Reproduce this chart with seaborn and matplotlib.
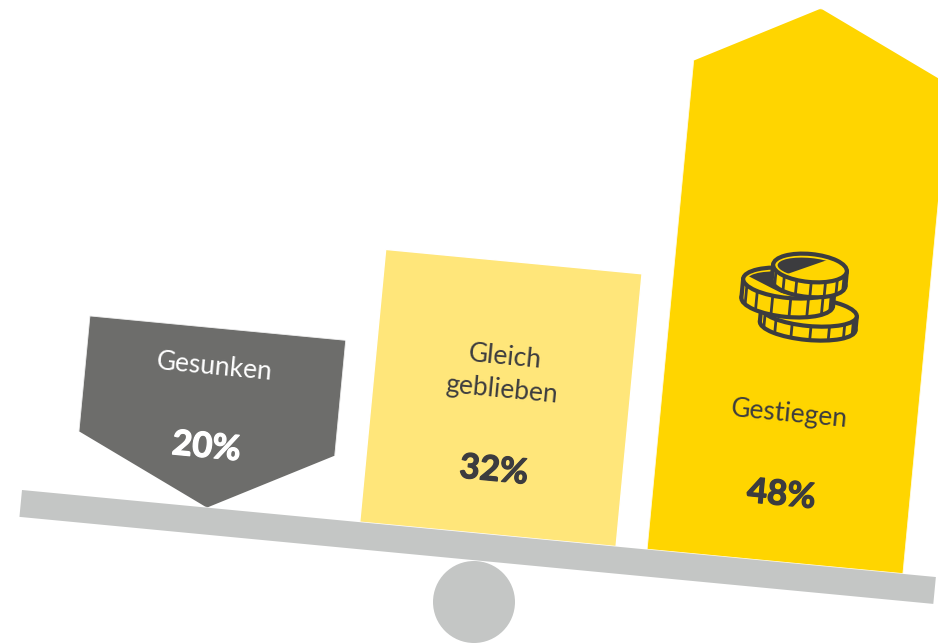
import numpy as np
import pandas as pd
import seaborn as sns
import matplotlib.pyplot as plt
import matplotlib.patheffects as pe
from matplotlib.patches import Circle, Ellipse, Polygon, Rectangle
from matplotlib.transforms import Affine2D, IdentityTransform

# Daten aus dem Bild
kategorien = ["Gesunken", "Gleich geblieben", "Gestiegen"]
beschriftung = ["Gesunken", "Gleich\ngeblieben", "Gestiegen"]
anteile = [20, 32, 48]
saeulenhoehe = [180, 274, 555]  # Hoehe der Saeulen im Bild, nicht proportional zu den Anteilen
farben = ["#6D6D6B", "#FFE67A", "#FFD500"]
textfarben = ["#FFFFFF", "#3C3C3F", "#3C3C3F"]

GRAU = "#C4C6C5"
DUNKEL = "#3C3C3F"
KIPP = 5.44  # Neigung der Waage in Grad

df = pd.DataFrame({"Kategorie": kategorien, "Hoehe": saeulenhoehe})

sns.set_theme(style="white")
plt.rcParams["font.family"] = ["Lato", "DejaVu Sans"]

fig = plt.figure(figsize=(9.38, 6.43), dpi=100, facecolor="white")
ax = fig.add_axes([0, 0, 1, 1])

sns.barplot(data=df, x="Kategorie", y="Hoehe", hue="Kategorie", palette=farben,
            saturation=1, width=0.893, legend=False, ax=ax)

# 288.4 px pro Kategorie, 1 px pro Hoeheneinheit
links = 1 - 490 / 288.4
ax.set_xlim(links, links + 938 / 288.4)
ax.set_ylim(-153, 490)
ax.set_axis_off()

# alles wird um das linke Ende der Waage gekippt
kipp = ax.transData + Affine2D().rotate_deg_around(22, 153, -KIPP)

for balken in ax.patches:
    balken.set_transform(kipp)

# Pfeilformen ueber Clipping
g = ax.patches[0]
x0, b, h = g.get_x(), g.get_width(), g.get_height()
form = Polygon([(x0, h), (x0 + b, h), (x0 + b, 64), (x0 + 0.524 * b, 0), (x0, 64)], transform=kipp)
g.set_clip_path(form)

g = ax.patches[2]
x0, b, h = g.get_x(), g.get_width(), g.get_height()
form = Polygon([(x0, 0), (x0 + b, 0), (x0 + b, 491), (x0 + 0.474 * b, h), (x0, 491)], transform=kipp)
g.set_clip_path(form)

# Waage
ax.add_patch(Rectangle((links + 22 / 288.4, -27), 918 / 288.4, 27, fc=GRAU, ec="none", transform=kipp, zorder=3))
ax.add_patch(Circle((474, 41), 41, fc=GRAU, ec="none", transform=IdentityTransform(), zorder=1))

# Texte
label_h = [141, 162, 148]
prozent_h = [60, 64, 67]
for i in range(3):
    ax.text(i, label_h[i], beschriftung[i], transform=kipp, rotation=-KIPP, rotation_mode="anchor",
            ha="center", va="center", fontsize=19, color=textfarben[i], linespacing=1.4, zorder=5)
    ax.text(i, prozent_h[i], f"{anteile[i]}%", transform=kipp, rotation=-KIPP, rotation_mode="anchor",
            ha="center", va="center", fontsize=25, fontweight="bold", color=textfarben[i], zorder=5,
            path_effects=[pe.withStroke(linewidth=0.9, foreground=textfarben[i])])


# Muenzen
def muenze(cx, cy, a, c, dicke, z, keil=None):
    t = Affine2D().rotate_deg(-KIPP).translate(cx, 643 - cy)
    gelb = farben[2]
    lw = 3
    ax.add_patch(Ellipse((0, -dicke), 2 * a, 2 * c, fc=gelb, ec=DUNKEL, lw=lw, transform=t, zorder=z))
    ax.add_patch(Rectangle((-a, -dicke), 2 * a, dicke, fc=gelb, ec="none", transform=t, zorder=z))
    ax.plot([-a, -a], [0, -dicke], color=DUNKEL, lw=lw, transform=t, zorder=z, solid_capstyle="round")
    ax.plot([a, a], [0, -dicke], color=DUNKEL, lw=lw, transform=t, zorder=z, solid_capstyle="round")
    for w in np.radians([205, 228, 251, 274, 297, 320, 340]):
        x = a * np.cos(w)
        y = c * np.sin(w)
        ax.plot([x, x], [y, y - dicke], color=DUNKEL, lw=2, transform=t, zorder=z)
    ax.add_patch(Ellipse((0, 0), 2 * a, 2 * c, fc=gelb, ec=DUNKEL, lw=lw, transform=t, zorder=z))
    if keil is not None:
        innen = Ellipse((0, 0), 2 * a - 9, 2 * c - 8, fc=DUNKEL, ec="none", transform=t, zorder=z)
        ax.add_patch(innen)
        innen.set_clip_path(Polygon(keil, transform=t))


muenze(809, 312, 48, 14, 14, 6)
muenze(789, 283, 46, 15, 19, 7, keil=[(-46, 5), (-16, -7), (10, -17), (10, 30), (-46, 30)])
muenze(810, 268, 37, 14, 15, 8, keil=[(-37, -15), (37, 19), (37, 30), (-37, 30)])

fig.savefig("out.png", dpi=100, facecolor="white")
